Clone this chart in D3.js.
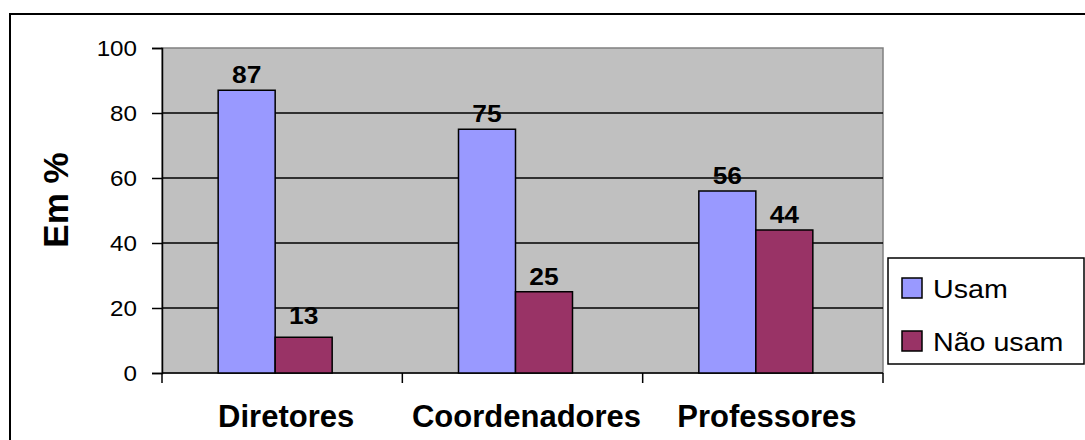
<!DOCTYPE html>
<html>
<head>
<meta charset="utf-8">
<script src="https://cdn.jsdelivr.net/npm/d3@7"></script>
<style>
  html, body { margin: 0; padding: 0; background: #fff; }
  svg { display: block; }
  text { font-family: Arial, "Liberation Sans", sans-serif; fill: #000; }
</style>
</head>
<body>
<svg id="chart" width="1085" height="440"></svg>
<script>
// ---- data ----
const categories = ["Diretores", "Coordenadores", "Professores"];
const seriesNames = ["Usam", "Não usam"];
const usam = [87, 75, 56];
const naoUsam = [11, 25, 44];          // bar heights as drawn
const usamLabels = ["87", "75", "56"];
const naoUsamLabels = ["13", "25", "44"];
const yTicks = [0, 20, 40, 60, 80, 100];
const yTitle = "Em %";

// ---- layout ----
const svg = d3.select("#chart");
const plot = { left: 162, right: 883, top: 48, bottom: 373 };
const colors = ["#9999FF", "#993366"];
const sx = 1.1; // slight horizontal stretch of glyphs in reference

// outer frame (runs off the canvas to the right and bottom)
svg.append("rect")
  .attr("x", 10).attr("y", 14).attr("width", 1200).attr("height", 600)
  .attr("fill", "#fff").attr("stroke", "#000").attr("stroke-width", 2);

const x = d3.scaleBand().domain(categories).range([plot.left, plot.right]).padding(0);
const y = d3.scaleLinear().domain([0, 100]).range([plot.bottom, plot.top]);
const groupW = 114;
const xs = d3.scaleBand().domain(seriesNames).range([0, groupW]).padding(0);

// plot background
svg.append("rect")
  .attr("x", plot.left).attr("y", plot.top)
  .attr("width", plot.right - plot.left).attr("height", plot.bottom - plot.top)
  .attr("fill", "#C0C0C0").attr("stroke", "#808080").attr("stroke-width", 1.5);

// gridlines
svg.append("g").selectAll("line")
  .data(yTicks.filter(d => d > 0 && d < 100))
  .join("line")
  .attr("x1", plot.left).attr("x2", plot.right)
  .attr("y1", d => y(d)).attr("y2", d => y(d))
  .attr("stroke", "#000").attr("stroke-width", 1.5);

// y axis
const yAxis = svg.append("g")
  .attr("transform", `translate(${plot.left},0)`)
  .call(d3.axisLeft(y).tickValues(yTicks).tickSize(10).tickPadding(6).tickFormat(d3.format("d")));
yAxis.select(".domain").attr("stroke", "#000").attr("stroke-width", 1.5);
yAxis.selectAll(".tick line").attr("stroke", "#000").attr("stroke-width", 1.5);
yAxis.selectAll(".tick text")
  .attr("font-size", 22).attr("font-family", "Arial, 'Liberation Sans', sans-serif")
  .attr("fill", "#000").attr("dy", "0.36em")
  .attr("transform", `scale(${sx},1)`)
  .attr("x", -25 / sx);

// x axis (boundary ticks)
const boundaries = categories.map(c => x(c)).concat([x(categories[categories.length - 1]) + x.bandwidth()]);
svg.append("line")
  .attr("x1", plot.left).attr("x2", plot.right)
  .attr("y1", plot.bottom).attr("y2", plot.bottom)
  .attr("stroke", "#000").attr("stroke-width", 1.5);
svg.append("g").selectAll("line").data(boundaries).join("line")
  .attr("x1", d => d).attr("x2", d => d)
  .attr("y1", plot.bottom).attr("y2", plot.bottom + 10)
  .attr("stroke", "#000").attr("stroke-width", 1.5);

// category labels
svg.append("g").selectAll("text").data(categories).join("text")
  .attr("transform", d => `translate(${x(d) + x.bandwidth() / 2 + 4},427)`)
  .attr("text-anchor", "middle")
  .attr("font-size", 31).attr("font-weight", "bold")
  .text(d => d);

// bars
const series = [
  { name: seriesNames[0], values: usam, labels: usamLabels, color: colors[0] },
  { name: seriesNames[1], values: naoUsam, labels: naoUsamLabels, color: colors[1] }
];
const groupOffset = (x.bandwidth() - groupW) / 2 - 7;

series.forEach(s => {
  const g = svg.append("g");
  g.selectAll("rect").data(categories).join("rect")
    .attr("x", (c) => x(c) + groupOffset + xs(s.name))
    .attr("width", xs.bandwidth())
    .attr("y", (c, i) => y(s.values[i]))
    .attr("height", (c, i) => y(0) - y(s.values[i]))
    .attr("fill", s.color).attr("stroke", "#000").attr("stroke-width", 1.5);
  g.selectAll("text").data(categories).join("text")
    .attr("transform", (c, i) =>
      `translate(${x(c) + groupOffset + xs(s.name) + xs.bandwidth() / 2},${y(+s.labels[i]) - 7}) scale(${sx},1)`)
    .attr("text-anchor", "middle")
    .attr("font-size", 24).attr("font-weight", "bold")
    .text((c, i) => s.labels[i]);
});

// y title
svg.append("text")
  .attr("transform", "translate(68,200) rotate(-90)")
  .attr("text-anchor", "middle")
  .attr("font-size", 35).attr("font-weight", "bold")
  .text(yTitle);

// legend
const lg = svg.append("g");
lg.append("rect")
  .attr("x", 888).attr("y", 258).attr("width", 196).attr("height", 106)
  .attr("fill", "#fff").attr("stroke", "#000").attr("stroke-width", 1.5);
const legendY = d3.scalePoint().domain(seriesNames).range([288, 341]);
lg.selectAll("rect.sw").data(series).join("rect").attr("class", "sw")
  .attr("x", 902).attr("y", d => legendY(d.name) - 10)
  .attr("width", 20).attr("height", 20)
  .attr("fill", d => d.color).attr("stroke", "#000").attr("stroke-width", 1.5);
lg.selectAll("text").data(series).join("text")
  .attr("transform", d => `translate(933,${legendY(d.name) + 9.5}) scale(1.08,1)`)
  .attr("font-size", 26.5)
  .text(d => d.name);
</script>
</body>
</html>
